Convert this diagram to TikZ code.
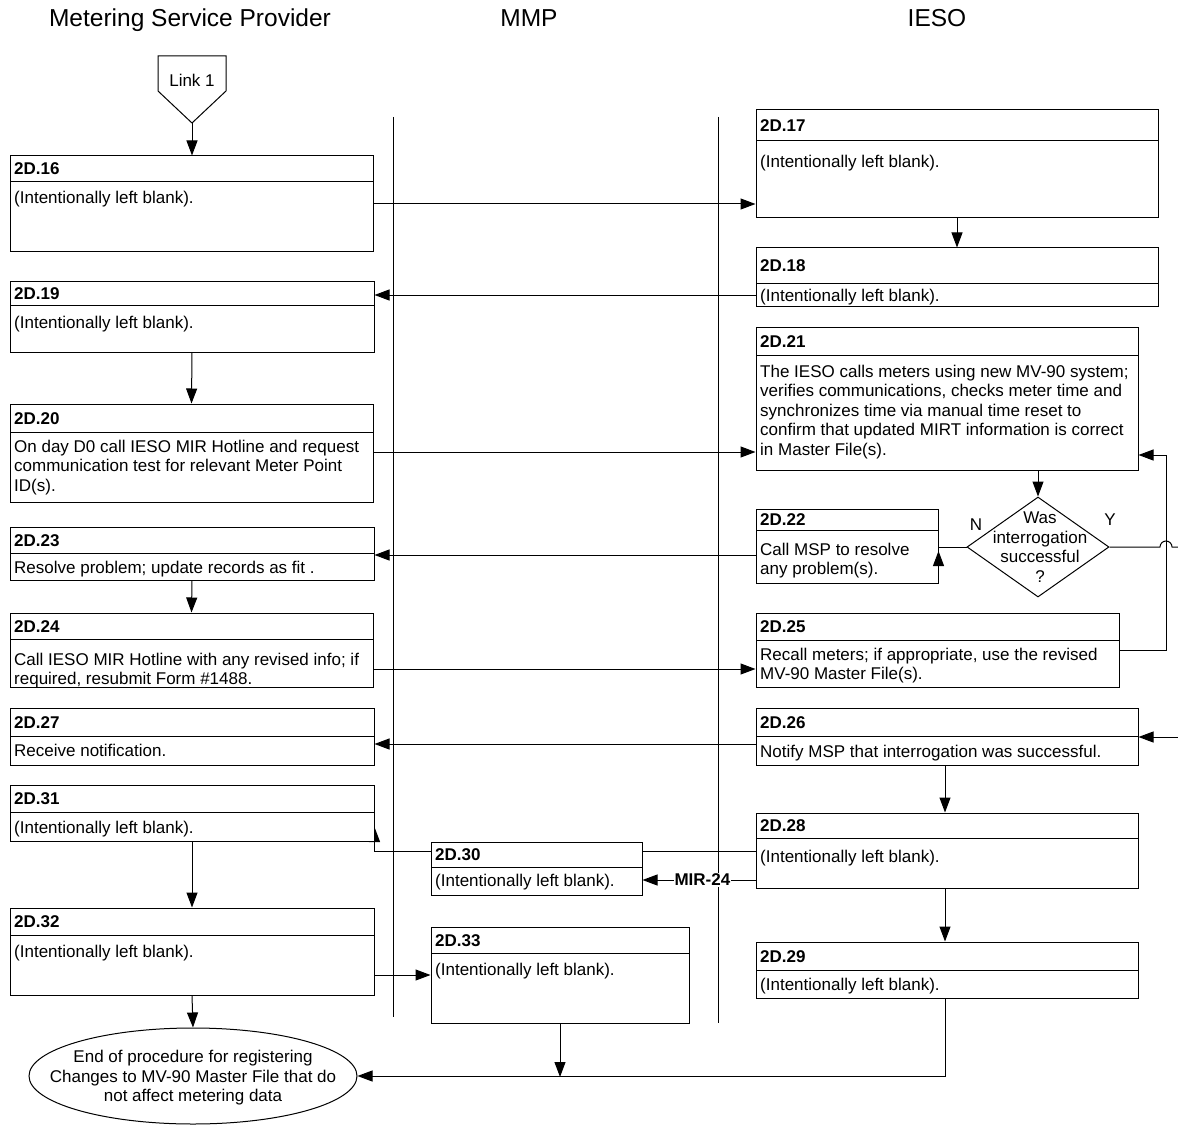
\documentclass[tikz,border=0pt]{standalone}
\usepackage{fontspec}
\setmainfont{Liberation Sans}
\usetikzlibrary{arrows.meta,shapes.geometric,fit,backgrounds}

\tikzset{
  boxshape/.style={draw, line width=1pt, fill=white, inner sep=0pt},
  divline/.style={line width=1pt},
  titletext/.style={font=\bfseries\fontsize{17}{19.5}\selectfont, anchor=base west, inner sep=0pt},
  bodytext/.style={font=\fontsize{17}{19.5}\selectfont, anchor=north west, inner sep=0pt, align=left},
  plaintext/.style={font=\fontsize{17}{19.5}\selectfont, inner sep=0pt, align=center},
  lane/.style={line width=1pt},
  conn/.style={line width=1pt},
  arr/.style={conn, -{Triangle[length=15pt,width=11pt]}},
  header/.style={font=\fontsize{24.5}{28}\selectfont, anchor=base, inner sep=0pt},
}

% #1 name, #2-#5 corners, #6 header divider, #7 first body baseline, #8 title, #9 body
\newcommand\flowbox[9]{%
  \node[boxshape, fit={(#2,#3) (#4,#5)}] (#1) {};
  \draw[divline] (#2,#6) -- (#4,#6);
  \node[titletext] (#1-t) at ({#2+4},{(#3+#6)/2+6}) {#8};
  \node[bodytext] (#1-b) at ({#2+4},{#7-13.65}) {\strut#9};
}

\begin{document}
\begin{tikzpicture}[x=1pt,y=-1pt]
\useasboundingbox (0,0) rectangle (1178,1126);

% lane titles
\node[header] (hmsp) at (190,27) {Metering Service Provider};
\node[header] (hmmp) at (529,27) {MMP};
\node[header] (hieso) at (937,27) {IESO};

% lane separators
\draw[lane] (393,117) -- (393,1017);
\draw[lane] (718,117) -- (718,1023);

% off-page link
\draw[conn] (158,56) -- (226,56) -- (226,91) -- (192,123) -- (158,91) -- cycle;
\node[plaintext] (link) at (192,80) {Link 1};
\coordinate (linktip) at (192,123);

% process steps
\flowbox{n16}{10}{156}{373}{251}{182}{203}{2D.16}{(Intentionally left blank).}
\flowbox{n17}{756}{110}{1158}{218}{141}{167}{2D.17}{(Intentionally left blank).}
\flowbox{n18}{756}{248}{1158}{306}{283}{301}{2D.18}{(Intentionally left blank).}
\flowbox{n19}{10}{281}{374}{352}{305}{328}{2D.19}{(Intentionally left blank).}
\flowbox{n20}{10}{404}{373}{502}{432}{452}{2D.20}{On day D0 call IESO MIR Hotline and request\\communication test for relevant Meter Point\\ID(s).}
\flowbox{n21}{756}{327}{1138}{470}{355}{377}{2D.21}{The IESO calls meters using new MV-90 system;\\verifies communications, checks meter time and\\synchronizes time via manual time reset to\\confirm that updated MIRT information is correct\\in Master File(s).}
\flowbox{n22}{756}{509}{938}{583}{530}{555}{2D.22}{Call MSP to resolve\\any problem(s).}
\flowbox{n23}{10}{527}{374}{580}{553}{573}{2D.23}{Resolve problem; update records as fit .}
\flowbox{n24}{10}{613}{373}{687}{639}{665}{2D.24}{Call IESO MIR Hotline with any revised info; if\\required, resubmit Form \#1488.}
\flowbox{n25}{756}{613}{1119}{687}{640}{660}{2D.25}{Recall meters; if appropriate, use the revised\\MV-90 Master File(s).}
\flowbox{n26}{756}{708}{1138}{765}{736}{757}{2D.26}{Notify MSP that interrogation was successful.}
\flowbox{n27}{10}{708}{374}{765}{736}{756}{2D.27}{Receive notification.}
\flowbox{n28}{756}{813}{1138}{888}{838}{862}{2D.28}{(Intentionally left blank).}
\flowbox{n29}{756}{942}{1138}{998}{970}{990}{2D.29}{(Intentionally left blank).}
\flowbox{n30}{431}{842}{642}{895}{867}{886}{2D.30}{(Intentionally left blank).}
\flowbox{n31}{10}{785}{374}{841}{812}{833}{2D.31}{(Intentionally left blank).}
\flowbox{n32}{10}{908}{374}{995}{935}{957}{2D.32}{(Intentionally left blank).}
\flowbox{n33}{431}{927}{689}{1023}{953}{975}{2D.33}{(Intentionally left blank).}

% decision
\node[diamond, draw, line width=1pt, fill=white, minimum width=142pt, minimum height=100pt, inner sep=0pt] (dia) at (1038,547) {};
\node[plaintext] (dia-t) at (1040,547) {Was\\interrogation\\successful\\?};
\node[plaintext] (lblN) at (976,525) {N};
\node[plaintext] (lblY) at (1110,520) {Y};

% terminator
\node[ellipse, draw, line width=1pt, fill=white, minimum width=328pt, minimum height=96pt, inner sep=0pt] (end) at (193,1076) {};
\node[plaintext] (end-t) at (193,1078) {End of procedure for registering\\Changes to MV-90 Master File that do\\not affect metering data};

% off-page ends of the "Y" branch
\coordinate (offout) at (1178,547);
\coordinate (offin) at (1178,737);
\coordinate (merge) at (560,1077);

% flow connectors
\draw[arr] (linktip) -- (linktip |- n16.north);
\draw[arr] (n16.east |- 0,204) -- (n17.west |- 0,204);
\draw[arr] (n17.south -| 957,0) -- (n18.north -| 957,0);
\draw[arr] (n18.west |- 0,295) -- (n19.east |- 0,295);
\draw[arr] (n19.south) -- (n20.north);
\draw[arr] (n20.east |- 0,452) -- (n21.west |- 0,452);
\draw[arr] (n21.south -| dia.north) -- (dia.north);
\draw[conn] (dia.west) -- (n22.east |- dia.west);
\draw[arr] (n22.east |- 0,566) -- (n22.east |- 0,551);
\draw[arr] (n22.west |- 0,555) -- (n23.east |- 0,555);
\draw[arr] (n23.south) -- (n24.north);
\draw[arr] (n24.east |- 0,669) -- (n25.west |- 0,669);
\draw[arr] (n25.east |- 0,650) -| (1166,455) -- (n21.east |- 0,455);
\draw[conn] (dia.east) -- (1160,547) arc[start angle=180, end angle=0, radius=6pt] -- (offout);
\draw[arr] (offin) -- (offin -| n26.east);
\draw[arr] (n26.west |- 0,744) -- (n27.east |- 0,744);
\draw[arr] (n26.south -| 945,0) -- (n28.north -| 945,0);
\begin{pgfonlayer}{background}
\draw[arr] (n28.west |- 0,851) -| (n31.east |- 0,827);
\end{pgfonlayer}
\draw[arr] (n28.west |- 0,880) -- (n30.east |- 0,880)
  node[pos=0.47, fill=white, inner sep=1pt, font=\bfseries\fontsize{17}{19.5}\selectfont] (mir) {MIR-24};
\draw[arr] (n28.south -| 945,0) -- (n29.north -| 945,0);
\draw[arr] (n31.south) -- (n32.north);
\draw[arr] (n32.east |- 0,975) -- (n33.west |- 0,975);
\draw[arr] (n32.south) -- (end.north);
\draw[arr] (n33.south -| merge) -- (merge);
\draw[arr] (n29.south -| 945,0) |- (end.east);
\end{tikzpicture}
\end{document}
